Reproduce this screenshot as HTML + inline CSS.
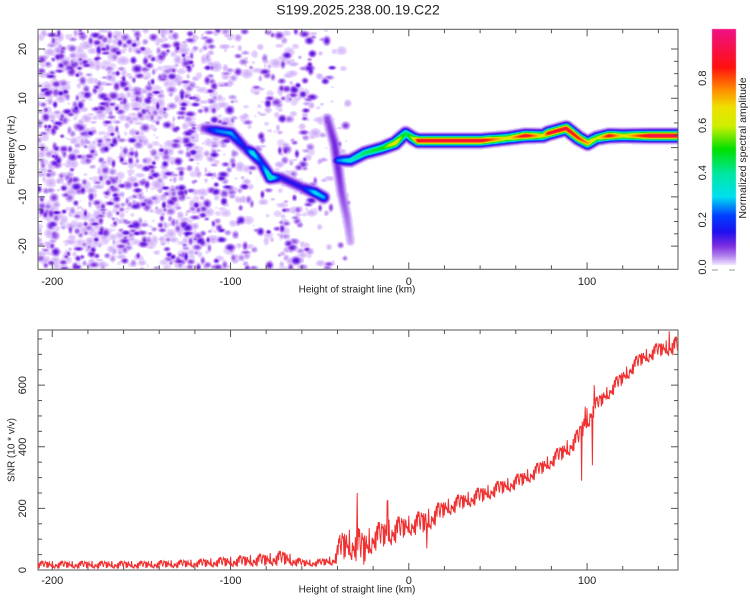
<!DOCTYPE html>
<html><head><meta charset="utf-8">
<style>
html,body{margin:0;padding:0;background:#fff;}
body{width:750px;height:600px;position:relative;overflow:hidden;font-family:"Liberation Sans",sans-serif;}
canvas,svg{position:absolute;left:0;top:0;}
</style></head>
<body>
<canvas id="hm" width="750" height="600"></canvas>
<svg id="ov" width="750" height="600"></svg>
<script>
// ---------- data ----------
const ridgeMainKm   = [-115,-108,-100,-92,-88,-83,-78,-72,-60,-53,-48];
const ridgeMainFreq = [4,3.5,3,0,-1,-3,-6,-6,-8,-9,-10];
const ridgeMainAmp  = [0.1,0.25,0.28,0.15,0.35,0.2,0.4,0.15,0.15,0.32,0.28];
const ridgeSteepKm   = [-46,-42,-40,-38,-35,-33];
const ridgeSteepFreq = [6,1,-4,-9,-14,-19];
const ridgeSteepAmp  = [0.08,0.1,0.1,0.08,0.06,0.04];
const ridgeRightKm   = [-40,-33,-25,-15,-8,-2,2,5,40,55,65,75,78,88,95,100,105,112,120,135,151];
const ridgeRightFreq = [-2.5,-2.5,-1,0,1,3,2,1.5,1.5,2,2.5,2.5,3,4,2,1,2,2.5,2.5,2.5,2.5];
const ridgeRightAmp  = [0.25,0.35,0.45,0.5,0.7,0.45,0.6,0.92,0.92,0.65,0.92,0.65,0.9,0.92,0.85,0.75,0.6,0.9,0.65,0.95,0.95];
const speckleKm      = [-208,-120,-118,-95,-93,-75,-73,-55,-53,-35,-33,151];
const speckleDensity = [1,1,0.6,0.6,0.3,0.3,0.5,0.5,0.2,0.2,0,0];
const snrKm   = [-208,-150,-120,-100,-80,-70,-60,-50,-42,-38,-30,-25,-20,-10,0,10,20,30,40,50,60,70,80,90,95,100,105,110,120,130,140,151];
const snrLow  = [5,5,8,10,12,15,10,12,15,30,30,10,60,80,110,120,170,195,215,240,260,290,330,370,400,450,510,540,600,660,690,700];
const snrHigh = [30,30,35,45,55,65,35,35,50,130,140,130,150,170,180,200,230,250,270,290,310,340,380,430,460,530,560,590,650,710,740,760];
const spikeKm  = [-29,-12,10,97,99,103,104,146];
const spikeVal = [250,225,70,290,530,340,600,775];
const xTicks = [-200,-100,0,100];
const fTicks = [-20,-10,0,10,20];
const sTicks = [0,200,400,600];
const cTicks = [0.0,0.2,0.4,0.6,0.8];

// ---------- scales ----------
const X0=38,X1=678, KM0=-208, KM1=151;
const xs = km => X0+(km-KM0)/(KM1-KM0)*(X1-X0);
const TY0=29.3,TY1=269.3,F0=-24.7,F1=24;
const fy = f => TY1-(f-F0)/(F1-F0)*(TY1-TY0);
const BY0=330,BY1=570,S0=0,S1=779;
const sy = s => BY1-(s-S0)/(S1-S0)*(BY1-BY0);
const CB0=267,CB1=31;
const cy = v => CB0-v*(CB0-CB1);

function interp(xa,ya,x){
  if(x<=xa[0])return ya[0];
  for(let i=1;i<xa.length;i++){ if(x<=xa[i]){const t=(x-xa[i-1])/(xa[i]-xa[i-1]);return ya[i-1]+t*(ya[i]-ya[i-1]);} }
  return ya[ya.length-1];
}
const stops=[[0,255,255,255],[0.015,236,220,255],[0.05,176,128,240],[0.09,128,48,224],[0.15,32,16,240],[0.22,0,64,255],[0.3,0,224,240],[0.4,0,232,160],[0.5,0,224,0],[0.6,208,240,0],[0.68,240,224,0],[0.75,255,144,0],[0.85,255,16,16],[1,240,16,128]];
function cmap(v){
  if(v<0.012)return [255,255,255];
  v=Math.min(1,v);
  for(let i=1;i<stops.length;i++){ if(v<=stops[i][0]){const a=stops[i-1],b=stops[i],t=(v-a[0])/(b[0]-a[0]);return [a[1]+t*(b[1]-a[1]),a[2]+t*(b[2]-a[2]),a[3]+t*(b[3]-a[3])];} }
  return [240,16,128];
}

// ---------- heatmap ----------
const cv=document.getElementById('hm'),ctx=cv.getContext('2d');
const W=X1-X0, H=Math.round(TY1-TY0), OY=Math.round(TY0);
const field=new Float32Array(W*H);
let seed=12345;function rnd(){seed|=0;seed=seed+0x6D2B79F5|0;let t=Math.imul(seed^seed>>>15,1|seed);t=t+Math.imul(t^t>>>7,61|t)^t;return((t^t>>>14)>>>0)/4294967296;}
function blob(cx,cyy,rx,ry,a){
  for(let y=Math.max(0,Math.floor(cyy-ry*2));y<Math.min(H,cyy+ry*2);y++)
    for(let x=Math.max(0,Math.floor(cx-rx*2));x<Math.min(W,cx+rx*2);x++){
      const v=a*Math.exp(-(((x-cx)/rx)**2+((y-cyy)/ry)**2));
      const i=y*W+x; if(v>field[i])field[i]=v;
    }
}
// light haze
for(let n=0;n<2500;n++){
  const km=KM0+rnd()*(KM1-KM0), f=F0+rnd()*(F1-F0);
  const d=interp(speckleKm,speckleDensity,km);
  if(rnd()>d*0.6)continue;
  blob(xs(km)-X0,fy(f)-OY,3+rnd()*4,2.5+rnd()*3,0.02+rnd()*0.015);
}
// speckles
for(let n=0;n<6000;n++){
  const km=KM0+rnd()*(KM1-KM0), f=F0+rnd()*(F1-F0);
  const d=interp(speckleKm,speckleDensity,km);
  if(rnd()>d*0.7)continue;
  blob(xs(km)-X0,fy(f)-OY,1.8+rnd()*2.6,1.6+rnd()*2.2,0.015+Math.pow(rnd(),1.8)*0.12);
}
const lines=[[ridgeMainKm,ridgeMainFreq,ridgeMainAmp],[ridgeSteepKm,ridgeSteepFreq,ridgeSteepAmp],[ridgeRightKm,ridgeRightFreq,ridgeRightAmp]];
const segs=[];
lines.forEach(([k,f,a])=>{for(let i=1;i<k.length;i++)segs.push([xs(k[i-1])-X0,fy(f[i-1])-OY,a[i-1],xs(k[i])-X0,fy(f[i])-OY,a[i]]);});
const sig=4.3;
for(let y=0;y<H;y++)for(let x=0;x<W;x++){
  let best=field[y*W+x];
  for(const s of segs){
    const dx=s[3]-s[0],dy=s[4]-s[1];
    let t=((x-s[0])*dx+(y-s[1])*dy)/(dx*dx+dy*dy);t=Math.max(0,Math.min(1,t));
    const px=s[0]+t*dx,py=s[1]+t*dy,dd=(x-px)**2+(y-py)**2;
    if(dd>200)continue;
    const v=(s[2]+t*(s[5]-s[2]))*Math.exp(-dd/(sig*sig));
    if(v>best)best=v;
  }
  field[y*W+x]=best;
}
const img=ctx.createImageData(W,H);
for(let i=0;i<W*H;i++){const c=cmap(field[i]);img.data[i*4]=c[0];img.data[i*4+1]=c[1];img.data[i*4+2]=c[2];img.data[i*4+3]=255;}
ctx.putImageData(img,X0,OY);
for(let y=29;y<=266;y++){const c=cmap((CB0-y)/(CB0-CB1));ctx.fillStyle=`rgb(${c[0]|0},${c[1]|0},${c[2]|0})`;ctx.fillRect(712,y,24,1);}

// ---------- overlay ----------
const NS='http://www.w3.org/2000/svg',svg=document.getElementById('ov');
function el(tag,attrs,parent){const e=document.createElementNS(NS,tag);for(const k in attrs)e.setAttribute(k,attrs[k]);(parent||svg).appendChild(e);return e;}
function txt(s,x,y,size,rot,parent){const t=el('text',{x:x,y:y,'font-size':size,'text-anchor':'middle','dominant-baseline':'middle',fill:'#222','font-family':'"Liberation Sans",sans-serif'},parent);if(rot)t.setAttribute('transform',`rotate(-90 ${x} ${y})`);t.textContent=s;return t;}

const title=txt('S199.2025.238.00.19.C22',358,11,14,false);



function frame(y0,y1,name){
  const g=el('g',{});
  
  
  el('rect',{x:X0,y:y0,width:X1-X0,height:y1-y0,fill:'none',stroke:'#555','stroke-width':1},g);
  for(let km=-200;km<=140;km+=20){const x=xs(km),L=(km%100===0)?7:4;
    el('line',{x1:x,y1:y0,x2:x,y2:y0+L,stroke:'#555'},g);el('line',{x1:x,y1:y1,x2:x,y2:y1-L,stroke:'#555'},g);}
  return g;
}
const gt=frame(TY0,TY1,'spectrogram-axes');
for(let f=-20;f<=20;f+=2.5){const y=fy(f),L=(f%10===0)?7:4;
  el('line',{x1:X0,y1:y,x2:X0+L,y2:y,stroke:'#555'},gt);el('line',{x1:X1,y1:y,x2:X1-L,y2:y,stroke:'#555'},gt);}
xTicks.forEach(k=>{const t=txt(String(k),xs(k),282,11,false,gt);});
fTicks.forEach(f=>{const t=txt(String(f),23,fy(f),11,true,gt);});
const xt1=txt('Height of straight line (km)',357,290,10,false,gt);


const yt1=txt('Frequency (Hz)',12,150,10,true,gt);



const gc=el('g',{});


cTicks.forEach(v=>{const t=txt(v.toFixed(1),703,cy(v),11,true,gc);});
el('line',{x1:712,y1:270,x2:718,y2:270,stroke:'#999'},gc);el('line',{x1:729,y1:270,x2:735,y2:270,stroke:'#999'},gc);
const ct=txt('Normalized spectral amplitude',743,148,10.5,true,gc);



const gb=frame(BY0,BY1,'snr-axes');
for(let s=0;s<=750;s+=50){const y=sy(s),L=(s%200===0)?7:4;
  el('line',{x1:X0,y1:y,x2:X0+L,y2:y,stroke:'#555'},gb);el('line',{x1:X1,y1:y,x2:X1-L,y2:y,stroke:'#555'},gb);}
xTicks.forEach(k=>{const t=txt(String(k),xs(k),581,11,false,gb);});
sTicks.forEach(s=>{const t=txt(String(s),23,sy(s),11,true,gb);});
const xt2=txt('Height of straight line (km)',357,590,10,false,gb);


const yt2=txt('SNR (10 * v/v)',12,450,10,true,gb);



let pts=[];
const phase=[0.1,0.8,0.35,0.95,0.2,0.55,0.05,0.7,0.4,1,0.15,0.6,0.3,0.85,0.0,0.5,0.75,0.25,0.9,0.45,0.12,0.65,0.38,0.98,0.08,0.72,0.28,0.58,0.88,0.18,0.48,0.03,0.78];
for(let px=X0;px<=X1;px+=0.6){
  const km=KM0+(px-X0)/(X1-X0)*(KM1-KM0);
  const lo=interp(snrKm,snrLow,km),hi=interp(snrKm,snrHigh,km);
  const i=Math.round((px-X0)/0.6);
  let v=lo+(hi-lo)*phase[(i*7)%phase.length];
  spikeKm.forEach((sk,j)=>{if(Math.abs(km-sk)<0.22)v=spikeVal[j];});
  pts.push(px.toFixed(1)+','+Math.max(BY0,sy(v)).toFixed(1));
}
const snr=el('polyline',{points:pts.join(' '),fill:'none',stroke:'#f03030','stroke-width':1},gb);


</script>
</body></html>
